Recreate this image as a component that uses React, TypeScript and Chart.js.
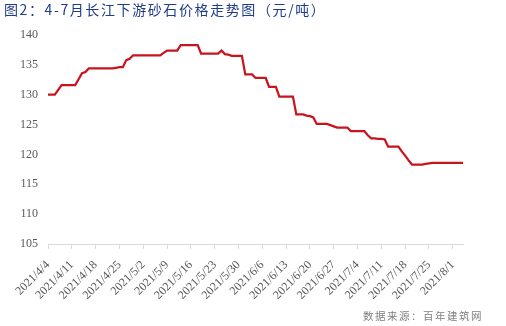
import React, { useEffect, useRef } from "react";
import { Chart, registerables } from "chart.js";

Chart.register(...registerables);

const TITLE = "图2：4-7月长江下游砂石价格走势图（元/吨）";
const SOURCE = "数据来源：百年建筑网";

// daily dates from 2021/4/4 to 2021/8/4
const START_DATE = { y: 2021, m: 4, d: 4 };
const DAY_COUNT = 123;
const categories: string[] = (() => {
  const out: string[] = [];
  const dt = new Date(START_DATE.y, START_DATE.m - 1, START_DATE.d);
  for (let i = 0; i < DAY_COUNT; i++) {
    out.push(`${dt.getFullYear()}/${dt.getMonth() + 1}/${dt.getDate()}`);
    dt.setDate(dt.getDate() + 1);
  }
  return out;
})();

// price (yuan/ton), one value per day
const prices: number[] = [
  130, 130, 130, 130.8, 131.6, 131.6, 131.6,
  131.6, 131.6, 132.6, 133.6, 133.8, 134.4, 134.4,
  134.4, 134.4, 134.4, 134.4, 134.4, 134.4, 134.5,
  134.6, 134.6, 135.8, 136.0, 136.6, 136.6, 136.6,
  136.6, 136.6, 136.6, 136.6, 136.6, 136.6, 137.0,
  137.4, 137.4, 137.4, 137.4, 138.3, 138.3, 138.3,
  138.3, 138.3, 138.3, 136.9, 136.9, 136.9, 136.9,
  136.9, 136.9, 137.4, 136.8, 136.7, 136.5, 136.5,
  136.5, 136.5, 133.4, 133.4, 133.4, 132.8, 132.8,
  132.8, 132.8, 131.3, 131.3, 131.3, 129.7, 129.7,
  129.7, 129.7, 129.7, 126.7, 126.7, 126.7, 126.5,
  126.4, 126.2, 125.1, 125.1, 125.1, 125.1, 124.9,
  124.7, 124.5, 124.5, 124.5, 124.5, 123.9, 123.9,
  123.9, 123.9, 123.9, 123.2, 122.7, 122.7, 122.6,
  122.6, 122.5, 121.3, 121.3, 121.3, 121.3, 120.5,
  119.8, 119.0, 118.3, 118.3, 118.3, 118.3, 118.4,
  118.5, 118.6, 118.6, 118.6, 118.6, 118.6, 118.6,
  118.6, 118.6, 118.6, 118.6,
];

const Y_MIN = 105;
const Y_MAX = 140;
const Y_STEP = 5;
const LABEL_EVERY = 7;

export default function App() {
  const ref = useRef<HTMLCanvasElement | null>(null);

  useEffect(() => {
    if (!ref.current) return;
    const tickFont = { family: "'Liberation Serif', 'Times New Roman', serif", size: 12 };
    const chart = new Chart(ref.current, {
      type: "line",
      data: {
        labels: categories,
        datasets: [
          {
            data: prices,
            borderColor: "#c8141f",
            borderWidth: 2.25,
            pointRadius: 0,
            tension: 0,
            fill: false,
          },
        ],
      },
      options: {
        animation: false,
        responsive: false,
        events: [],
        layout: { padding: { left: 0, right: 43, top: 35, bottom: 0 } },
        plugins: { legend: { display: false }, tooltip: { enabled: false } },
        scales: {
          x: {
            type: "category",
            offset: false,
            border: { display: true, color: "#d9d9d9", width: 1 },
            grid: {
              display: true,
              drawOnChartArea: false,
              drawTicks: true,
              tickLength: 5,
              tickColor: (ctx: any) =>
                ctx.index % LABEL_EVERY === 0 ? "#d9d9d9" : "rgba(0,0,0,0)",
            },
            ticks: {
              autoSkip: false,
              maxRotation: 45,
              minRotation: 45,
              padding: 9,
              color: "#595959",
              font: tickFont,
              callback: (_v: any, i: number) =>
                i % LABEL_EVERY === 0 ? categories[i] : "",
            },
            afterFit: (scale: any) => {
              scale.height = 82;
            },
          },
          y: {
            min: Y_MIN,
            max: Y_MAX,
            border: { display: false },
            grid: { display: false, drawTicks: false },
            ticks: {
              stepSize: Y_STEP,
              padding: 10,
              color: "#595959",
              font: tickFont,
            },
            afterFit: (scale: any) => {
              scale.width = 48;
            },
          },
        },
      },
    });
    return () => chart.destroy();
  }, []);

  return (
    <div
      style={{
        position: "fixed",
        left: 0,
        top: 0,
        width: 506,
        height: 326,
        background: "#ffffff",
        overflow: "hidden",
      }}
    >
      <canvas
        ref={ref}
        width={506}
        height={326}
        style={{ position: "absolute", left: 0, top: 0, width: 506, height: 326 }}
      />
      <div
        style={{
          position: "absolute",
          left: 4,
          top: 0,
          fontFamily: "'Noto Sans CJK SC', sans-serif",
          fontSize: 14,
          lineHeight: "19px",
          letterSpacing: "1.6px",
          color: "#1f3c88",
          whiteSpace: "nowrap",
        }}
      >
        {TITLE}
      </div>
      <div
        style={{
          position: "absolute",
          left: 363,
          top: 308,
          fontFamily: "'Noto Sans CJK SC', sans-serif",
          fontSize: 10.5,
          lineHeight: "15px",
          letterSpacing: "1.5px",
          color: "#808080",
          whiteSpace: "nowrap",
        }}
      >
        {SOURCE}
      </div>
    </div>
  );
}
